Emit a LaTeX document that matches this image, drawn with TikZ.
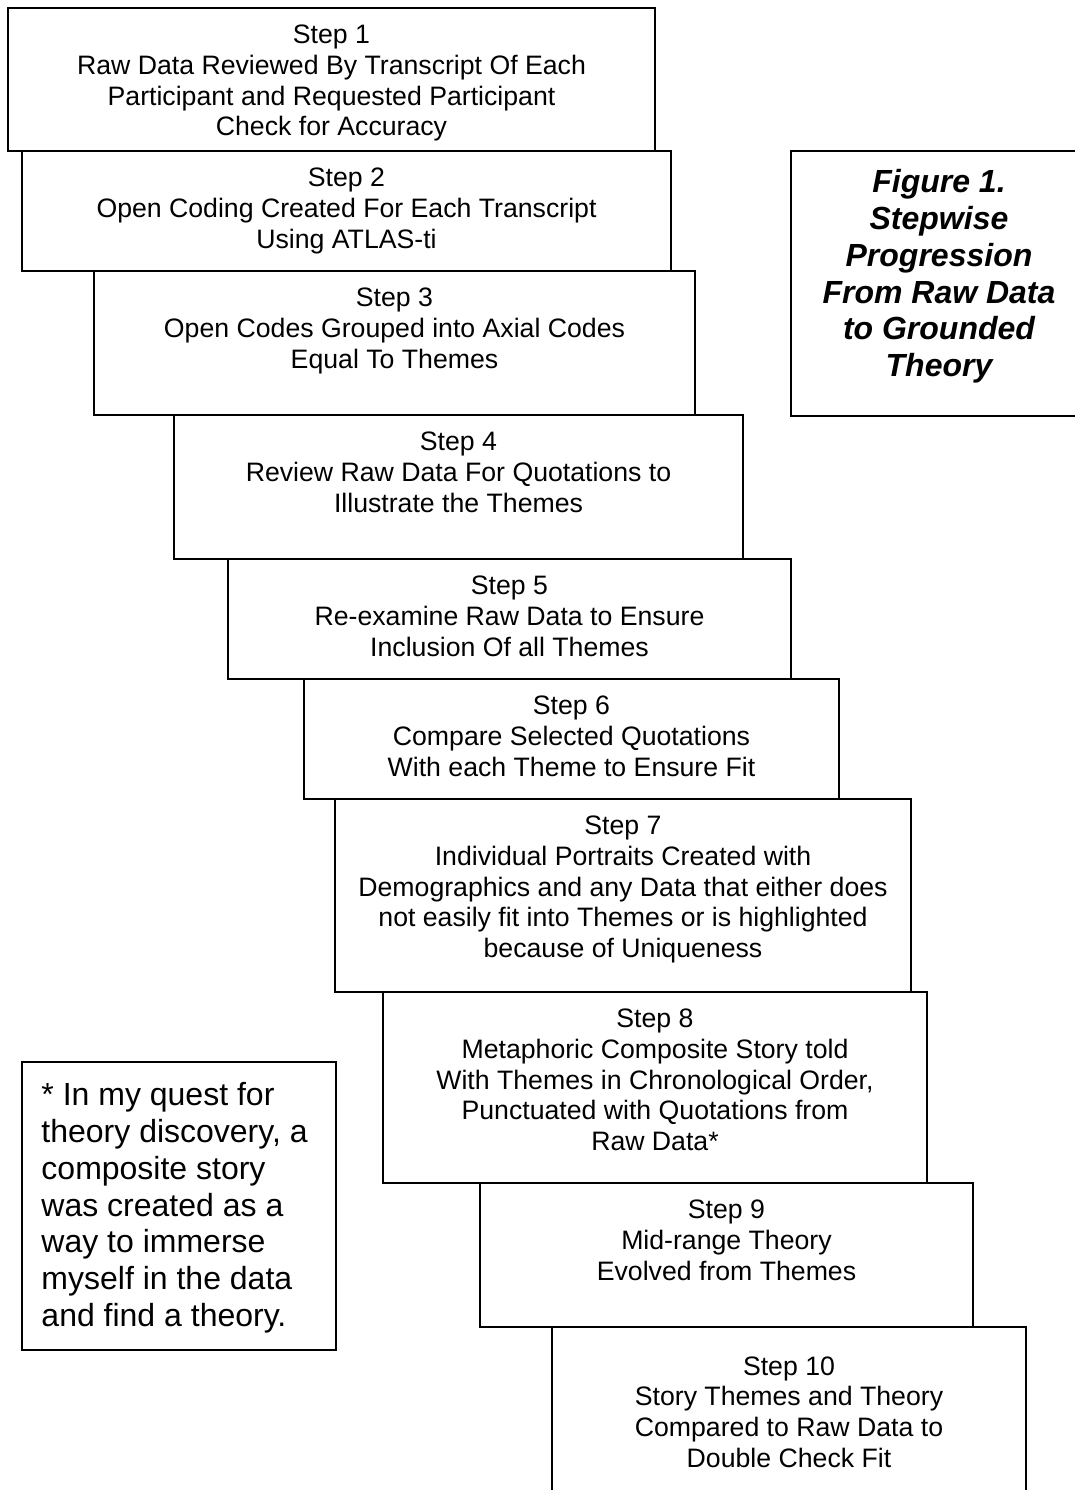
\documentclass[tikz,border=0pt]{standalone}
\usepackage{fontspec}
\setmainfont{Liberation Sans}
\usetikzlibrary{fit,positioning}
\tikzset{
	stepbox/.style={draw, line width=1.2pt, inner sep=0pt},
	steptext/.style={align=center, inner sep=0pt, font=\fontsize{20}{23.1}\selectfont},
	notetext/.style={align=left, inner sep=0pt, font=\fontsize{24}{27.6}\selectfont},
	titletext/.style={align=center, inner sep=0pt, font=\fontsize{24}{27.6}\selectfont\bfseries\itshape},
}
\begin{document}
\begin{tikzpicture}[x=0.75pt,y=-0.75pt]
	\useasboundingbox (0,0) rectangle (1075,1490);
	\fill[white] (0,0) rectangle (1075,1490);
	\clip (0,0) rectangle (1075,1490);
	\node[stepbox, fit={(8,8) (655,151)}] (s1) {};
	\node[stepbox, fit={(22,151) (671,271)}] (s2) {};
	\node[stepbox, fit={(94,271) (695,415)}] (s3) {};
	\node[stepbox, fit={(174,415) (743,559)}] (s4) {};
	\node[stepbox, fit={(228,559) (791,679)}] (s5) {};
	\node[stepbox, fit={(304,679) (839,799)}] (s6) {};
	\node[stepbox, fit={(335,799) (911,992)}] (s7) {};
	\node[stepbox, fit={(383,992) (927,1183)}] (s8) {};
	\node[stepbox, fit={(480,1183) (973,1327)}] (s9) {};
	\node[stepbox, fit={(552,1327) (1026,1500)}] (s10) {};
	\node[stepbox, fit={(791,151) (1087,416)}] (fig) {};
	\node[stepbox, fit={(22,1062) (336,1350)}] (note) {};
	\node[steptext, below=13pt of s1.north] (t1) {Step 1\\Raw Data Reviewed By Transcript Of Each\\Participant and Requested Participant\\Check for Accuracy};
	\node[steptext, below=13pt of s2.north] (t2) {Step 2\\Open Coding Created For Each Transcript\\Using ATLAS-ti};
	\node[steptext, below=13pt of s3.north] (t3) {Step 3\\Open Codes Grouped into Axial Codes\\Equal To Themes};
	\node[steptext, below=13pt of s4.north] (t4) {Step 4\\Review Raw Data For Quotations to\\Illustrate the Themes};
	\node[steptext, below=13pt of s5.north] (t5) {Step 5\\Re-examine Raw Data to Ensure\\Inclusion Of all Themes};
	\node[steptext, below=13pt of s6.north] (t6) {Step 6\\Compare Selected Quotations\\With each Theme to Ensure Fit};
	\node[steptext, below=13pt of s7.north] (t7) {Step 7\\Individual Portraits Created with\\Demographics and any Data that either does\\not easily fit into Themes or is highlighted\\because of Uniqueness};
	\node[steptext, below=13pt of s8.north] (t8) {Step 8\\Metaphoric Composite Story told\\With Themes in Chronological Order,\\Punctuated with Quotations from\\Raw Data*};
	\node[steptext, below=13pt of s9.north] (t9) {Step 9\\Mid-range Theory\\Evolved from Themes};
	\node[steptext, below=22.5pt of s10.north] (t10) {Step 10\\Story Themes and Theory\\Compared to Raw Data to\\Double Check Fit};
	\node[titletext, below=14.25pt of fig.north] (title) {Figure 1.\\Stepwise\\Progression\\From Raw Data\\to Grounded\\Theory};
	\node[notetext, below right=15.75pt and 15pt of note.north west] (remark) {* In my quest for\\theory discovery, a\\composite story\\was created as a\\way to immerse\\myself in the data\\and find a theory.};
\end{tikzpicture}
\end{document}
